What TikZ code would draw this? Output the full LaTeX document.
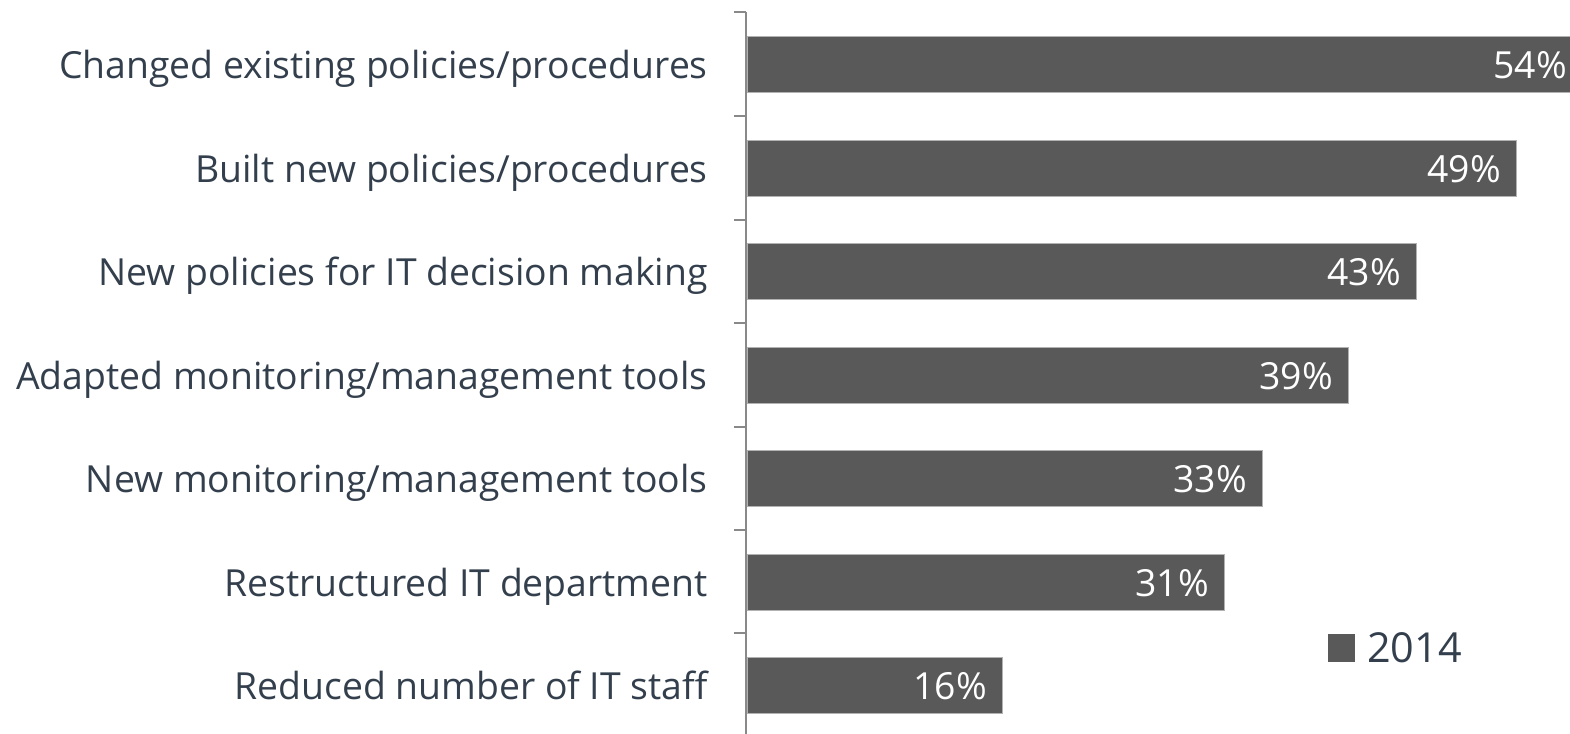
\documentclass[tikz,border=0pt]{standalone}
\usepackage{fontspec}
\setmainfont{Open Sans}
\usepackage{xcolor}
\usepackage{tikz}
\definecolor{barfill}{HTML}{595959}
\definecolor{labeltext}{HTML}{333F4C}
\definecolor{axisgray}{HTML}{898989}

\begin{document}
\begin{tikzpicture}[x=0.75pt,y=-0.75pt,
    catlabel/.style={anchor=base east,inner sep=0pt,color=labeltext,font=\fontsize{28}{34}\selectfont},
    pctlabel/.style={anchor=base east,inner sep=0pt,color=white,font=\fontsize{28}{34}\selectfont},
    barrect/.style={fill=barfill,draw=gray!60,line width=0.4pt}]
        \useasboundingbox (0,0) rectangle (1570,733);
        \clip (0,0) rectangle (1570,733);
        % axis and ticks
        \draw[axisgray,line width=1.5pt] (746,12) coordinate (top) -- (746,745) coordinate (bot);
        \foreach \y in {12,116,220,323,427,530,633}
            \draw[axisgray,line width=1.5pt] (734,\y) -- (746,\y);
        % bars
        \draw[barrect] (747,36) rectangle (1582,92);
        \draw[barrect] (747,140) rectangle (1516,196);
        \draw[barrect] (747,243) rectangle (1416,299);
        \draw[barrect] (747,347) rectangle (1348,403);
        \draw[barrect] (747,450) rectangle (1262,506);
        \draw[barrect] (747,554) rectangle (1224,610);
        \draw[barrect] (747,657) rectangle (1002,713);
        % values
        \node[pctlabel] (v1) at (1567,78) {54\%};
        \node[pctlabel] (v2) at (1501,182) {49\%};
        \node[pctlabel] (v3) at (1401,285) {43\%};
        \node[pctlabel] (v4) at (1333,389) {39\%};
        \node[pctlabel] (v5) at (1247,492) {33\%};
        \node[pctlabel] (v6) at (1209,596) {31\%};
        \node[pctlabel] (v7) at (987,699) {16\%};
        % categories
        \node[catlabel] (c1) at (708,78) {Changed existing policies/procedures};
        \node[catlabel] (c2) at (708,182) {Built new policies/procedures};
        \node[catlabel] (c3) at (708,285) {New policies for IT decision making};
        \node[catlabel] (c4) at (708,389) {Adapted monitoring/management tools};
        \node[catlabel] (c5) at (708,492) {New monitoring/management tools};
        \node[catlabel] (c6) at (708,596) {Restructured IT department};
        \node[catlabel] (c7) at (708,699) {Reduced number of IT staff};
        % legend
        \fill[barfill] (1328,634) rectangle (1355,662);
        \node[anchor=base west,inner sep=0pt,color=labeltext,font=\fontsize{31}{37}\selectfont] (leg) at (1367,662) {2014};
    \end{tikzpicture}
\end{document}
